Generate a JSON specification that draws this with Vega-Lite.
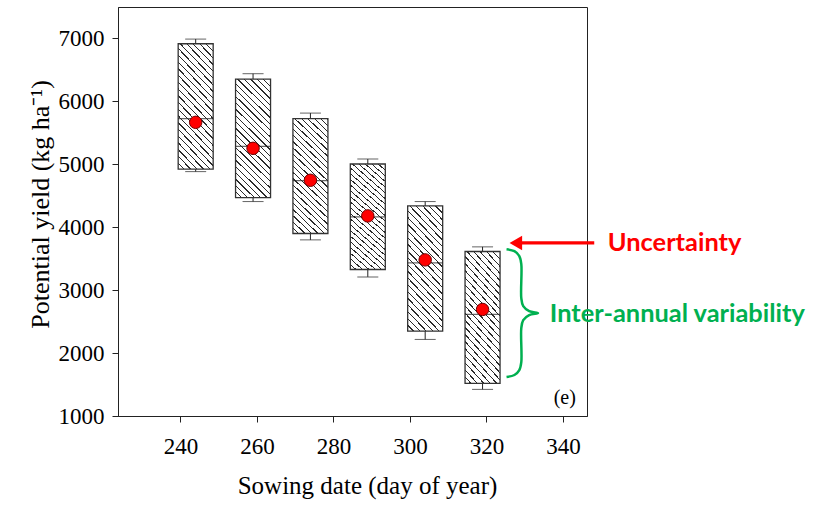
{
  "$schema": "https://vega.github.io/schema/vega-lite/v6.json",
  "width": 469,
  "height": 409,
  "autosize": "none",
  "padding": {"left": 118, "top": 7, "right": 246, "bottom": 89},
  "background": "white",
  "config": {
    "view": {"stroke": "#222", "strokeWidth": 1},
    "axis": {
      "grid": false,
      "domainColor": "#222",
      "tickColor": "#222",
      "labelColor": "black",
      "titleColor": "black",
      "labelFont": "Liberation Serif",
      "titleFont": "Liberation Serif",
      "labelFontSize": 23,
      "titleFontSize": 25,
      "titleFontWeight": "normal",
      "tickSize": 6,
      "domainWidth": 1,
      "tickWidth": 1
    }
  },
  "datasets": {
    "boxes": [
      {"date": 244, "wlo": 4884, "q1": 4925, "med": 5725, "q3": 6916, "whi": 6990, "mean": 5667},
      {"date": 259, "wlo": 4408, "q1": 4471, "med": 5286, "q3": 6354, "whi": 6440, "mean": 5254},
      {"date": 274, "wlo": 3799, "q1": 3900, "med": 4741, "q3": 5725, "whi": 5814, "mean": 4746},
      {"date": 289, "wlo": 3211, "q1": 3328, "med": 4164, "q3": 5005, "whi": 5084, "mean": 4180},
      {"date": 304, "wlo": 2217, "q1": 2349, "med": 3434, "q3": 4339, "whi": 4408, "mean": 3481},
      {"date": 319, "wlo": 1423, "q1": 1519, "med": 2614, "q3": 3614, "whi": 3688, "mean": 2693}
    ],
    "brace": [
      {"i": 1, "date": 325.27, "yield": 3651},
      {"i": 2, "date": 327.33, "yield": 3619},
      {"i": 3, "date": 328.61, "yield": 3540},
      {"i": 4, "date": 329.13, "yield": 3413},
      {"i": 5, "date": 329.13, "yield": 2873},
      {"i": 6, "date": 329.64, "yield": 2746},
      {"i": 7, "date": 331.19, "yield": 2667},
      {"i": 8, "date": 333.5, "yield": 2635},
      {"i": 9, "date": 331.19, "yield": 2603},
      {"i": 10, "date": 329.64, "yield": 2524},
      {"i": 11, "date": 329.13, "yield": 2397},
      {"i": 12, "date": 329.13, "yield": 1857},
      {"i": 13, "date": 328.61, "yield": 1730},
      {"i": 14, "date": 327.33, "yield": 1651},
      {"i": 15, "date": 325.27, "yield": 1619}
    ]
  },
  "layer": [
    {
      "data": {"name": "boxes"},
      "mark": {"type": "rule", "stroke": "#222", "strokeWidth": 1},
      "encoding": {
        "x": {"field": "date", "type": "quantitative", "scale": {"domain": [225, 345], "nice": false, "zero": false}, "title": "Sowing date (day of year)", "axis": {"values": [240, 260, 280, 300, 320, 340], "labelPadding": 13, "titlePadding": 15, "titleX": 249, "titleAlign": "center"}},
        "y": {"field": "wlo", "type": "quantitative", "scale": {"domain": [1000, 7500], "nice": false, "zero": false}, "title": "Potential yield (kg ha⁻¹)", "axis": {"values": [1000, 2000, 3000, 4000, 5000, 6000, 7000], "format": "d", "labelPadding": 8, "titlePadding": 5, "titleFontSize": 26, "titleY": 197, "titleAlign": "center"}},
        "y2": {"field": "whi"}
      }
    },
    {
      "data": {"name": "boxes"},
      "mark": {"type": "tick", "orient": "horizontal", "size": 21, "thickness": 1, "color": "#222"},
      "encoding": {
        "x": {"field": "date", "type": "quantitative", "title": "Sowing date (day of year)"},
        "y": {"field": "wlo", "type": "quantitative", "title": "Potential yield (kg ha⁻¹)"}
      }
    },
    {
      "data": {"name": "boxes"},
      "mark": {"type": "tick", "orient": "horizontal", "size": 21, "thickness": 1, "color": "#222"},
      "encoding": {
        "x": {"field": "date", "type": "quantitative", "title": "Sowing date (day of year)"},
        "y": {"field": "whi", "type": "quantitative", "title": "Potential yield (kg ha⁻¹)"}
      }
    },
    {
      "data": {"name": "boxes"},
      "mark": {
        "type": "bar",
        "orient": "vertical",
        "width": 35,
        "stroke": "#333",
        "strokeWidth": 1.3,
        "fill": {
          "gradient": "linear",
          "x1": 0, "y1": 1, "x2": 0.347, "y2": -0.19,
          "stops": [
            {"offset": 0, "color": "#fff"}, {"offset": 0.0333, "color": "#fff"}, {"offset": 0.0333, "color": "#2a2a2a"}, {"offset": 0.0417, "color": "#2a2a2a"},
            {"offset": 0.0417, "color": "#fff"}, {"offset": 0.075, "color": "#fff"}, {"offset": 0.075, "color": "#2a2a2a"}, {"offset": 0.0833, "color": "#2a2a2a"},
            {"offset": 0.0833, "color": "#fff"}, {"offset": 0.1167, "color": "#fff"}, {"offset": 0.1167, "color": "#2a2a2a"}, {"offset": 0.125, "color": "#2a2a2a"},
            {"offset": 0.125, "color": "#fff"}, {"offset": 0.1583, "color": "#fff"}, {"offset": 0.1583, "color": "#2a2a2a"}, {"offset": 0.1667, "color": "#2a2a2a"},
            {"offset": 0.1667, "color": "#fff"}, {"offset": 0.2, "color": "#fff"}, {"offset": 0.2, "color": "#2a2a2a"}, {"offset": 0.2083, "color": "#2a2a2a"},
            {"offset": 0.2083, "color": "#fff"}, {"offset": 0.2417, "color": "#fff"}, {"offset": 0.2417, "color": "#2a2a2a"}, {"offset": 0.25, "color": "#2a2a2a"},
            {"offset": 0.25, "color": "#fff"}, {"offset": 0.2833, "color": "#fff"}, {"offset": 0.2833, "color": "#2a2a2a"}, {"offset": 0.2917, "color": "#2a2a2a"},
            {"offset": 0.2917, "color": "#fff"}, {"offset": 0.325, "color": "#fff"}, {"offset": 0.325, "color": "#2a2a2a"}, {"offset": 0.3333, "color": "#2a2a2a"},
            {"offset": 0.3333, "color": "#fff"}, {"offset": 0.3667, "color": "#fff"}, {"offset": 0.3667, "color": "#2a2a2a"}, {"offset": 0.375, "color": "#2a2a2a"},
            {"offset": 0.375, "color": "#fff"}, {"offset": 0.4083, "color": "#fff"}, {"offset": 0.4083, "color": "#2a2a2a"}, {"offset": 0.4167, "color": "#2a2a2a"},
            {"offset": 0.4167, "color": "#fff"}, {"offset": 0.45, "color": "#fff"}, {"offset": 0.45, "color": "#2a2a2a"}, {"offset": 0.4583, "color": "#2a2a2a"},
            {"offset": 0.4583, "color": "#fff"}, {"offset": 0.4917, "color": "#fff"}, {"offset": 0.4917, "color": "#2a2a2a"}, {"offset": 0.5, "color": "#2a2a2a"},
            {"offset": 0.5, "color": "#fff"}, {"offset": 0.5333, "color": "#fff"}, {"offset": 0.5333, "color": "#2a2a2a"}, {"offset": 0.5417, "color": "#2a2a2a"},
            {"offset": 0.5417, "color": "#fff"}, {"offset": 0.575, "color": "#fff"}, {"offset": 0.575, "color": "#2a2a2a"}, {"offset": 0.5833, "color": "#2a2a2a"},
            {"offset": 0.5833, "color": "#fff"}, {"offset": 0.6167, "color": "#fff"}, {"offset": 0.6167, "color": "#2a2a2a"}, {"offset": 0.625, "color": "#2a2a2a"},
            {"offset": 0.625, "color": "#fff"}, {"offset": 0.6583, "color": "#fff"}, {"offset": 0.6583, "color": "#2a2a2a"}, {"offset": 0.6667, "color": "#2a2a2a"},
            {"offset": 0.6667, "color": "#fff"}, {"offset": 0.7, "color": "#fff"}, {"offset": 0.7, "color": "#2a2a2a"}, {"offset": 0.7083, "color": "#2a2a2a"},
            {"offset": 0.7083, "color": "#fff"}, {"offset": 0.7417, "color": "#fff"}, {"offset": 0.7417, "color": "#2a2a2a"}, {"offset": 0.75, "color": "#2a2a2a"},
            {"offset": 0.75, "color": "#fff"}, {"offset": 0.7833, "color": "#fff"}, {"offset": 0.7833, "color": "#2a2a2a"}, {"offset": 0.7917, "color": "#2a2a2a"},
            {"offset": 0.7917, "color": "#fff"}, {"offset": 0.825, "color": "#fff"}, {"offset": 0.825, "color": "#2a2a2a"}, {"offset": 0.8333, "color": "#2a2a2a"},
            {"offset": 0.8333, "color": "#fff"}, {"offset": 0.8667, "color": "#fff"}, {"offset": 0.8667, "color": "#2a2a2a"}, {"offset": 0.875, "color": "#2a2a2a"},
            {"offset": 0.875, "color": "#fff"}, {"offset": 0.9083, "color": "#fff"}, {"offset": 0.9083, "color": "#2a2a2a"}, {"offset": 0.9167, "color": "#2a2a2a"},
            {"offset": 0.9167, "color": "#fff"}, {"offset": 0.95, "color": "#fff"}, {"offset": 0.95, "color": "#2a2a2a"}, {"offset": 0.9583, "color": "#2a2a2a"},
            {"offset": 0.9583, "color": "#fff"}, {"offset": 0.9917, "color": "#fff"}, {"offset": 0.9917, "color": "#2a2a2a"}, {"offset": 1, "color": "#2a2a2a"}
          ]
        }
      },
      "encoding": {
        "x": {"field": "date", "type": "quantitative", "title": "Sowing date (day of year)"},
        "y": {"field": "q1", "type": "quantitative", "title": "Potential yield (kg ha⁻¹)"},
        "y2": {"field": "q3"}
      }
    },
    {
      "data": {"name": "boxes"},
      "mark": {"type": "tick", "orient": "horizontal", "size": 35, "thickness": 1.2, "color": "#222"},
      "encoding": {
        "x": {"field": "date", "type": "quantitative", "title": "Sowing date (day of year)"},
        "y": {"field": "med", "type": "quantitative", "title": "Potential yield (kg ha⁻¹)"}
      }
    },
    {
      "data": {"name": "boxes"},
      "mark": {"type": "circle", "size": 155, "fill": "#ff0000", "stroke": "#700000", "strokeWidth": 1, "opacity": 1},
      "encoding": {
        "x": {"field": "date", "type": "quantitative", "title": "Sowing date (day of year)"},
        "y": {"field": "mean", "type": "quantitative", "title": "Potential yield (kg ha⁻¹)"}
      }
    },
    {
      "data": {"values": [{"date": 340.5, "yield": 1286, "label": "(e)"}]},
      "mark": {"type": "text", "font": "Liberation Serif", "fontSize": 20, "color": "black", "align": "center", "baseline": "middle"},
      "encoding": {
        "x": {"field": "date", "type": "quantitative", "title": "Sowing date (day of year)"},
        "y": {"field": "yield", "type": "quantitative", "title": "Potential yield (kg ha⁻¹)"},
        "text": {"field": "label"}
      }
    },
    {
      "data": {"values": [{"from": 328.6, "to": 348.2, "yield": 3751}]},
      "mark": {"type": "rule", "stroke": "#ff0000", "strokeWidth": 3.2},
      "encoding": {
        "x": {"field": "from", "type": "quantitative", "title": "Sowing date (day of year)"},
        "x2": {"field": "to"},
        "y": {"field": "yield", "type": "quantitative", "title": "Potential yield (kg ha⁻¹)"}
      }
    },
    {
      "data": {"values": [{"date": 327.7, "yield": 3751}]},
      "mark": {"type": "point", "shape": "triangle-left", "filled": true, "size": 210, "color": "#ff0000", "opacity": 1},
      "encoding": {
        "x": {"field": "date", "type": "quantitative", "title": "Sowing date (day of year)"},
        "y": {"field": "yield", "type": "quantitative", "title": "Potential yield (kg ha⁻¹)"}
      }
    },
    {
      "data": {"name": "brace"},
      "mark": {"type": "line", "stroke": "#00b050", "strokeWidth": 2.5, "interpolate": "catmull-rom"},
      "encoding": {
        "x": {"field": "date", "type": "quantitative", "title": "Sowing date (day of year)"},
        "y": {"field": "yield", "type": "quantitative", "title": "Potential yield (kg ha⁻¹)"},
        "order": {"field": "i", "type": "quantitative"}
      }
    },
    {
      "data": {"values": [
        {"date": 351.75, "yield": 3751, "label": "Uncertainty", "kind": "u"},
        {"date": 336.6, "yield": 2619, "label": "Inter-annual variability", "kind": "v"}
      ]},
      "mark": {"type": "text", "font": "Lato", "fontWeight": "bold", "fontSize": 25.4, "align": "left", "baseline": "middle"},
      "encoding": {
        "x": {"field": "date", "type": "quantitative", "title": "Sowing date (day of year)"},
        "y": {"field": "yield", "type": "quantitative", "title": "Potential yield (kg ha⁻¹)"},
        "text": {"field": "label"},
        "color": {"field": "kind", "type": "nominal", "scale": {"domain": ["u", "v"], "range": ["#ff0000", "#00b050"]}, "legend": null}
      }
    }
  ]
}
